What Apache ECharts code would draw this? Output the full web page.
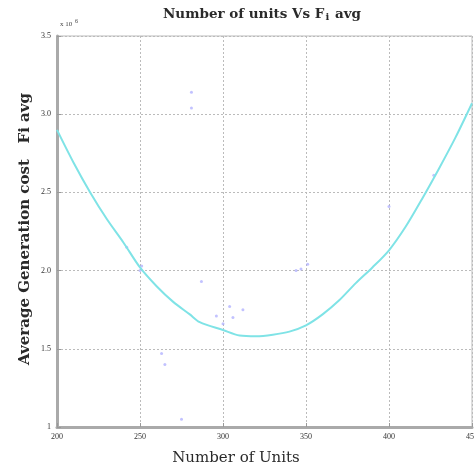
<!DOCTYPE html>
<html>
<head>
<meta charset="utf-8">
<script src="https://cdn.jsdelivr.net/npm/echarts@6/dist/echarts.min.js"></script>
<style>
  html, body { margin: 0; padding: 0; background: #fff; }
  #chart { width: 474px; height: 469px; }
</style>
</head>
<body>
<div id="chart"></div>
<script>
// number of units (x) and average generation cost in 1e6 (y)
const units = [200, 210, 220, 230, 240, 250, 260, 270, 280, 286, 300, 310, 320, 330, 340, 350, 360, 370, 380, 390, 400, 410, 420, 430, 440, 450]
const avgCost = [2.90, 2.69, 2.50, 2.33, 2.18, 2.02, 1.90, 1.80, 1.72, 1.67, 1.62, 1.585, 1.58, 1.59, 1.61, 1.65, 1.72, 1.81, 1.92, 2.02, 2.13, 2.28, 2.46, 2.65, 2.85, 3.07]

// scattered samples
const sampleUnits = [242, 251, 250, 287, 296, 304, 306, 300, 312, 344, 347, 351, 263, 265, 275, 400, 427, 281, 281]
const sampleCost = [2.15, 2.03, 2.00, 1.93, 1.71, 1.77, 1.70, 1.66, 1.75, 2.00, 2.01, 2.04, 1.47, 1.40, 1.05, 2.41, 2.61, 3.14, 3.04]

const xTicks = [200, 250, 300, 350, 400, 450]
const yTicks = ['1', '1.5', '2.0', '2.5', '3.0', '3.5']

const serif = '"Liberation Serif", "DejaVu Serif", serif'
const wideSerif = '"DejaVu Serif", serif'

const myChart = echarts.init(document.getElementById('chart'))

myChart.setOption({
    animation: false,
    graphic: [
        {
            type: 'text',
            x: 262,
            y: 14,
            style: {
                text: 'Number of units Vs F{sub|i} avg',
                font: 'bold 13.5px ' + wideSerif,
                fill: '#2a2a2a',
                align: 'center',
                verticalAlign: 'middle',
                rich: {
                    sub: { fontFamily: wideSerif, fontSize: 10, fontWeight: 'bold', padding: [6, 1, 0, 1] }
                }
            }
        },
        {
            type: 'text',
            x: 236,
            y: 458,
            style: {
                text: 'Number of Units',
                font: '15px ' + wideSerif,
                fill: '#2a2a2a',
                align: 'center',
                verticalAlign: 'middle'
            }
        },
        {
            type: 'text',
            x: 25,
            y: 229,
            rotation: Math.PI / 2,
            style: {
                text: 'Average Generation cost   Fi avg',
                font: 'bold 15px ' + wideSerif,
                fill: '#2a2a2a',
                align: 'center',
                verticalAlign: 'middle'
            }
        },
        {
            type: 'text',
            left: 60,
            top: 21,
            style: { text: 'x 10', font: '7px ' + serif, fill: '#444' }
        },
        {
            type: 'text',
            left: 75,
            top: 18,
            style: { text: '6', font: '6px ' + serif, fill: '#444' }
        }
    ],
    grid: {
        left: 57,
        right: 2,
        top: 36,
        bottom: 42,
        outerBoundsMode: 'none',
        show: true,
        borderColor: '#bbb',
        borderWidth: 1
    },
    xAxis: {
        type: 'value',
        min: 200,
        max: 450,
        interval: 50,
        axisLine: { lineStyle: { color: '#aaa', width: 3 } },
        axisTick: { inside: true, length: 4, lineStyle: { color: '#999' } },
        axisLabel: {
            fontFamily: serif, fontSize: 8, color: '#333', margin: 6,
            formatter: v => xTicks.includes(v) ? String(v) : ''
        },
        splitLine: { show: true, lineStyle: { color: '#bbb', type: [2, 2], width: 1 } }
    },
    yAxis: {
        type: 'value',
        min: 1,
        max: 3.5,
        interval: 0.5,
        axisLine: { lineStyle: { color: '#aaa', width: 3 } },
        axisTick: { inside: true, length: 4, lineStyle: { color: '#999' } },
        axisLabel: {
            fontFamily: serif, fontSize: 8, color: '#333', margin: 6,
            formatter: v => yTicks[Math.round((v - 1) / 0.5)] || ''
        },
        splitLine: { show: true, lineStyle: { color: '#bbb', type: [2, 2], width: 1 } }
    },
    series: [
        {
            type: 'scatter',
            data: sampleUnits.map((u, i) => [u, sampleCost[i]]),
            symbolSize: 3,
            itemStyle: { color: '#a8a8ff', opacity: 0.7 }
        },
        {
            type: 'line',
            data: units.map((u, i) => [u, avgCost[i]]),
            smooth: 0.3,
            symbol: 'none',
            lineStyle: { color: '#7fe3e6', width: 2 }
        }
    ]
})
</script>
</body>
</html>
